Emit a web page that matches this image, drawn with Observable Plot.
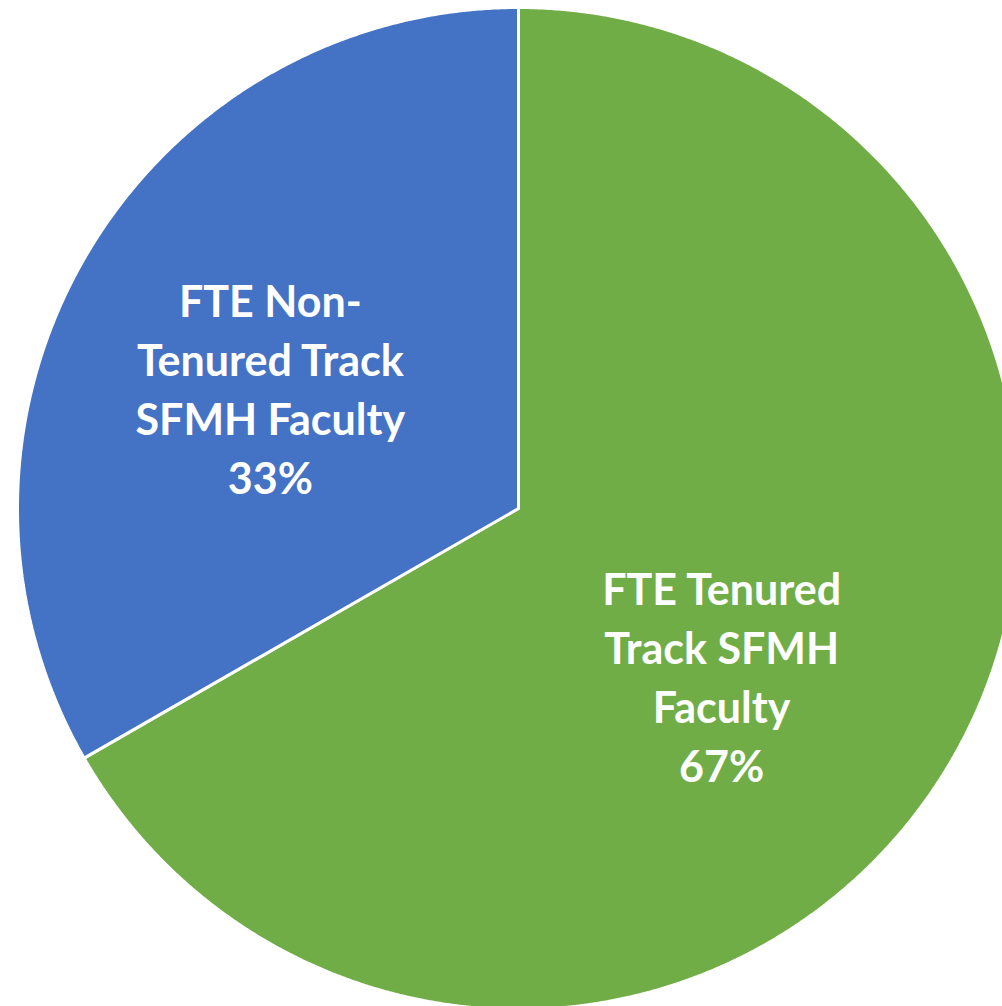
<!DOCTYPE html>
<html>
<head>
<meta charset="utf-8">
<script src="https://cdn.jsdelivr.net/npm/d3@7"></script>
<script src="https://cdn.jsdelivr.net/npm/@observablehq/plot@0.6"></script>
<style>
  html, body { margin: 0; padding: 0; background: #ffffff; }
  #chart { width: 1002px; height: 1006px; overflow: hidden; }
</style>
</head>
<body>
<div id="chart"></div>
<script>
// Data
const categories = ["FTE Tenured Track SFMH Faculty", "FTE Non-Tenured Track SFMH Faculty"];
const labelLines = ["FTE Tenured\nTrack SFMH\nFaculty", "FTE Non-\nTenured Track\nSFMH Faculty"];
const values = [66.7, 33.3];
const colors = ["#70AD47", "#4472C4"];

const W = 1002, H = 1006;
const cx = 518, cy = 508, R = 501;

const table = categories.map((c, i) => ({category: c, value: values[i], label: labelLines[i], color: colors[i]}));
const arcs = d3.pie().sort(null).value(d => d.value)(table);
const total = d3.sum(values);

// Build slice polygons in data units (unit circle), angle measured clockwise from 12 o'clock
const polyPts = [];
arcs.forEach((a, i) => {
  const n = Math.max(2, Math.ceil((a.endAngle - a.startAngle) / 0.005));
  const pts = [{x: 0, y: 0}];
  for (let k = 0; k <= n; k++) {
    const t = a.startAngle + (a.endAngle - a.startAngle) * k / n;
    pts.push({x: Math.sin(t), y: Math.cos(t)});
  }
  pts.push({x: 0, y: 0});
  pts.forEach(p => polyPts.push({...p, category: a.data.category}));
});

const labelData = arcs.map(a => {
  const mid = (a.startAngle + a.endAngle) / 2;
  const r = 0.54;
  const pct = Math.round(a.data.value / total * 100) + "%";
  return {x: Math.sin(mid) * r, y: Math.cos(mid) * r, text: a.data.label + "\n" + pct, category: a.data.category};
});
const labelOffsets = {"FTE Tenured Track SFMH Faculty": [-31, 31], "FTE Non-Tenured Track SFMH Faculty": [-14, 14]};

const plot = Plot.plot({
  width: W,
  height: H,
  margin: 0,
  style: {background: "#ffffff", overflow: "hidden"},
  x: {type: "linear", domain: [-cx / R, (W - cx) / R], range: [0, W], axis: null},
  y: {type: "linear", domain: [-(H - cy) / R, cy / R], range: [H, 0], axis: null},
  color: {domain: categories, range: colors},
  marks: [
    Plot.line(polyPts, {x: "x", y: "y", z: "category", fill: "category", stroke: "white", strokeWidth: 3, strokeLinejoin: "miter", curve: "linear"}),
    ...labelData.map(d => Plot.text([d], {
      x: "x", y: "y", text: "text",
      dx: labelOffsets[d.category][0], dy: labelOffsets[d.category][1],
      fill: "white", fontSize: 43, fontWeight: "bold",
      fontFamily: "Lato, 'Open Sans', sans-serif",
      lineHeight: 1.372, textAnchor: "middle"
    }))
  ]
});
document.getElementById("chart").appendChild(plot);
</script>
</body>
</html>
